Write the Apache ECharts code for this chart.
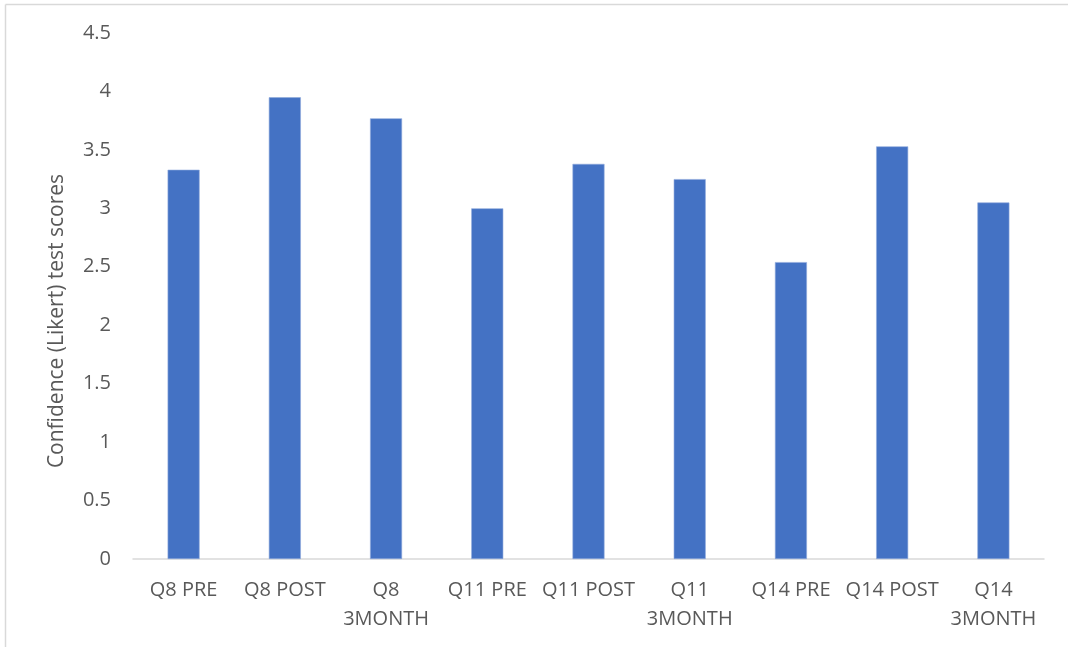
<!DOCTYPE html>
<html>
<head>
<meta charset="utf-8">
<script src="https://cdn.jsdelivr.net/npm/echarts@6/dist/echarts.min.js"></script>
<style>
  html, body { margin: 0; padding: 0; background: #fff; }
  #chart { width: 1068px; height: 647px; }
</style>
</head>
<body>
<div id="chart"></div>
<script>
// Mean confidence (Likert) scores per question and time point
const categories = ['Q8 PRE', 'Q8 POST', 'Q8 3MONTH', 'Q11 PRE', 'Q11 POST', 'Q11 3MONTH', 'Q14 PRE', 'Q14 POST', 'Q14 3MONTH'];
const scores = [3.33, 3.95, 3.77, 3.00, 3.38, 3.25, 2.54, 3.53, 3.05];
const yTicks = { min: 0, max: 4.5, interval: 0.5 };
const yTitle = 'Confidence (Likert) test scores';

const textColor = '#595959';
const fontFamily = "'Open Sans', 'Noto Sans', sans-serif";

const chart = echarts.init(document.getElementById('chart'), null, { renderer: 'canvas' });

chart.setOption({
  animation: false,
  backgroundColor: '#ffffff',
  grid: { left: 133, right: 24, top: 33, bottom: 88, containLabel: false },
  graphic: [
    // frame edges around the chart area
    { type: 'line', shape: { x1: 5.5, y1: 4.5, x2: 1068, y2: 4.5 }, style: { stroke: '#d9d9d9', lineWidth: 1.5 } },
    { type: 'line', shape: { x1: 5.5, y1: 4.5, x2: 5.5, y2: 647 }, style: { stroke: '#d9d9d9', lineWidth: 1.5 } },
    {
      type: 'text', x: 57, y: 321, rotation: Math.PI / 2,
      style: { text: yTitle, fill: textColor, font: '21px ' + fontFamily, textAlign: 'center', textVerticalAlign: 'middle' }
    }
  ],
  xAxis: {
    type: 'category',
    data: categories,
    axisLine: { lineStyle: { color: '#d9d9d9', width: 1.5 } },
    axisTick: { show: false },
    axisLabel: {
      interval: 0,
      color: textColor,
      fontFamily: fontFamily,
      fontSize: 20,
      lineHeight: 29,
      margin: 17,
      formatter: v => v.replace(' 3MONTH', '\n3MONTH')
    }
  },
  yAxis: {
    type: 'value',
    min: yTicks.min,
    max: yTicks.max,
    interval: yTicks.interval,
    axisLine: { show: false },
    axisTick: { show: false },
    splitLine: { show: false },
    axisLabel: { color: textColor, fontFamily: fontFamily, fontSize: 20, margin: 22 }
  },
  series: [{
    type: 'bar',
    data: scores,
    barWidth: 32,
    itemStyle: { color: '#4472C4', borderColor: '#8faadc', borderWidth: 0.6 }
  }]
});
</script>
</body>
</html>
